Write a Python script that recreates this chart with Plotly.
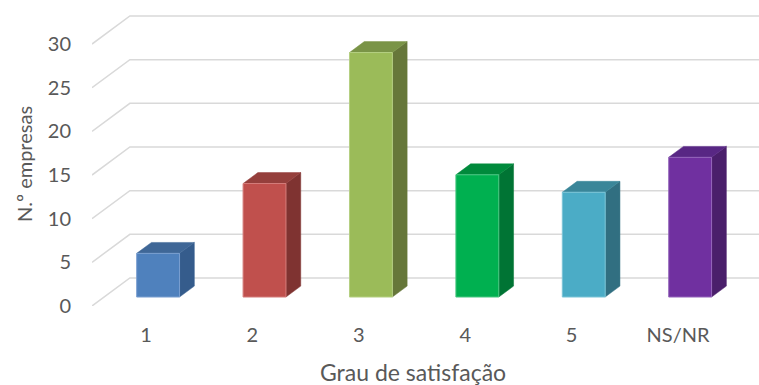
import plotly.graph_objects as go

# Survey results: number of companies per satisfaction grade
categories = ["1", "2", "3", "4", "5", "NS/NR"]
empresas = [5, 13, 28, 14, 12, 16]
y_ticks = [0, 5, 10, 15, 20, 25, 30]

front_colors = ["#4F81BD", "#C0504D", "#9BBB59", "#00B050", "#4BACC6", "#7030A0"]
edge_colors = ["#7A9FD0", "#D47C7A", "#B5CF82", "#4CC883", "#7CC5D8", "#9567BB"]
side_colors = ["#355C8C", "#7F3331", "#66773A", "#007434", "#316F81", "#4A1F6B"]
top_colors = ["#3F6797", "#953F3C", "#7A9447", "#008A3C", "#3A8699", "#582784"]

# Oblique "3-D" projection: one unit of depth shifts a point right and up
DEPTH_X = 0.356   # in category units
DEPTH_Y = 3.21    # in value units
BAR_FRONT = 0.32  # depth of bar front faces
BAR_BACK = 0.71   # depth of bar back faces
HALF_W = 0.2015   # half bar width in category units

X_MIN, X_MAX = -0.5075, 5.761
Y_MAX = 33.9

fig = go.Figure()

grid = dict(color="#D9D9D9", width=1.5)
xs_back = X_MIN + DEPTH_X
for v in y_ticks:
    # left wall diagonal + back wall line
    fig.add_trace(go.Scatter(
        x=[X_MIN, xs_back, X_MAX], y=[v, v + DEPTH_Y, v + DEPTH_Y],
        mode="lines", line=grid, hoverinfo="skip", showlegend=False))

fx = BAR_FRONT * DEPTH_X
fy = BAR_FRONT * DEPTH_Y
dx = (BAR_BACK - BAR_FRONT) * DEPTH_X
dy = (BAR_BACK - BAR_FRONT) * DEPTH_Y


def face(xs, ys, fill, edge, width=0.5, text=None):
    return go.Scatter(
        x=xs, y=ys, fill="toself", fillcolor=fill, mode="lines",
        line=dict(color=edge, width=width),
        hoverinfo="text" if text else "skip", text=text, showlegend=False)


for i, (cat, val) in enumerate(zip(categories, empresas)):
    xc = i + fx
    xl, xr = xc - HALF_W, xc + HALF_W
    yb, yt = fy, fy + val
    # side face
    fig.add_trace(face(
        [xr, xr + dx, xr + dx, xr, xr], [yb, yb + dy, yt + dy, yt, yb],
        side_colors[i], side_colors[i]))
    # top face
    fig.add_trace(face(
        [xl, xl + dx, xr + dx, xr, xl], [yt, yt + dy, yt + dy, yt, yt],
        top_colors[i], top_colors[i]))
    # front face
    fig.add_trace(face(
        [xl, xr, xr, xl, xl], [yb, yb, yt, yt, yb],
        front_colors[i], edge_colors[i], width=1, text=f"{cat}: {val}"))

font_color = "#595959"
fig.update_layout(
    width=759, height=385,
    margin=dict(l=92, r=0, t=10, b=79),
    paper_bgcolor="white", plot_bgcolor="white",
    font=dict(family="Lato, Open Sans, sans-serif", size=20, color=font_color),
    xaxis=dict(
        range=[X_MIN, X_MAX], showgrid=False, zeroline=False, showline=False,
        tickmode="array", tickvals=list(range(len(categories))), ticktext=categories,
        ticks="", ticklabelstandoff=15, fixedrange=True),
    yaxis=dict(
        range=[0, Y_MAX], showgrid=False, zeroline=False, showline=False,
        tickmode="array", tickvals=y_ticks, ticks="", ticklabelstandoff=20,
        fixedrange=True),
    annotations=[
        dict(text="Grau de satisfação", xref="paper", yref="paper",
             x=(413 - 92) / 667, y=(306 - 372) / 296, showarrow=False,
             xanchor="center", yanchor="middle", font=dict(size=23, color=font_color)),
        dict(text="N.º empresas", xref="paper", yref="paper",
             x=(24 - 92) / 667, y=(306 - 164) / 296, showarrow=False, textangle=-90,
             xanchor="center", yanchor="middle", font=dict(size=20, color=font_color)),
    ],
)

fig.write_html("out.html")
